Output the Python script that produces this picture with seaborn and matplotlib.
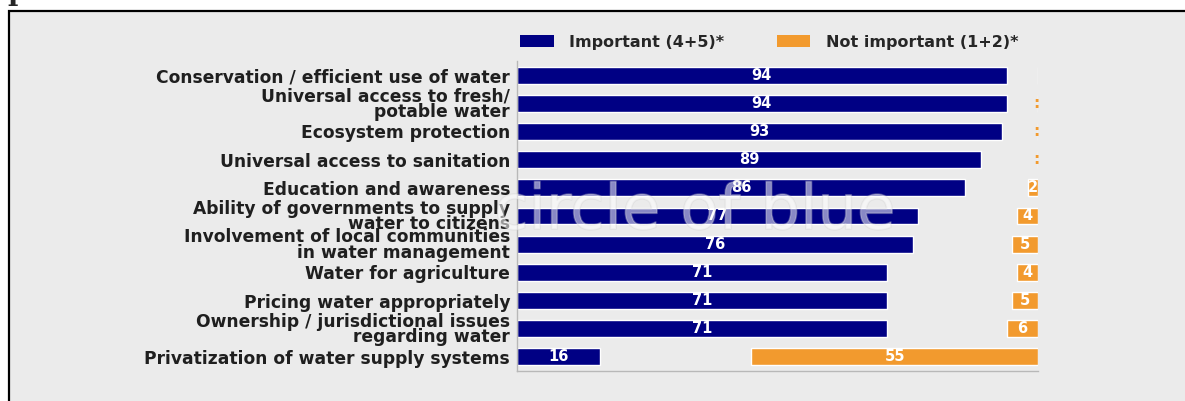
import matplotlib
matplotlib.use("Agg")
import matplotlib.pyplot as plt
import seaborn as sns
import pandas as pd
from matplotlib.patches import Patch, Rectangle
import matplotlib.patheffects as pe

categories = [
    "Conservation / efficient use of water",
    "Universal access to fresh/\npotable water",
    "Ecosystem protection",
    "Universal access to sanitation",
    "Education and awareness",
    "Ability of governments to supply\nwater to citizens",
    "Involvement of local communities\nin water management",
    "Water for agriculture",
    "Pricing water appropriately",
    "Ownership / jurisdictional issues\nregarding water",
    "Privatization of water supply systems",
]
important = [94, 94, 93, 89, 86, 77, 76, 71, 71, 71, 16]
not_important = [0, 0.5, 0.5, 0.5, 2, 4, 5, 4, 5, 6, 55]
legend_labels = ["Important (4+5)*", "Not important (1+2)*"]

NAVY = "#000084"
ORANGE = "#F29A2E"
BG = "#EBEBEB"

sns.set_theme(style="white")
plt.rcParams["font.family"] = ["DejaVu Sans"]

W, H = 1185, 401
fig = plt.figure(figsize=(W / 100, H / 100), dpi=100)
fig.patch.set_facecolor("white")
fig.patches.append(Rectangle((9 / W, -0.05), 1.2, 1 - 11 / H + 0.05,
                             transform=fig.transFigure, facecolor=BG,
                             edgecolor="black", linewidth=1.6, zorder=-10))
fig.text(7 / W, 1 + 0.5 / H, "p", family="DejaVu Serif", fontweight="bold",
         fontsize=20, va="baseline", ha="left")

left, right = 517 / W, 1038 / W
bottom, top = 1 - 371 / H, 1 - 61 / H
ax = fig.add_axes([left, bottom, right - left, top - bottom])
ax.set_facecolor("none")

df = pd.DataFrame({"cat": categories, "imp": important, "notimp": not_important})

sns.barplot(data=df, x="imp", y="cat", color=NAVY, width=0.6, ax=ax,
            saturation=1, orient="h")
ax.set_xlim(0, 100)
ax.set_ylim(len(categories) - 0.5, -0.5)

ax2 = ax.twiny()
ax2.set_facecolor("none")
df_bar = df.copy()
df_bar["notimp_bar"] = [v if v >= 1 else 0 for v in not_important]
sns.barplot(data=df_bar, x="notimp_bar", y="cat", color=ORANGE, width=0.6,
            ax=ax2, saturation=1, orient="h")
ax2.set_xlim(100, 0)
ax2.set_ylim(len(categories) - 0.5, -0.5)
ax2.set_xticks([])
ax2.set_xlabel("")
ax2.set_ylabel("")
for s in ax2.spines.values():
    s.set_visible(False)

# value labels
for i, v in enumerate(important):
    ax.text(v / 2, i, f"{v}", color="white", fontweight="bold", fontsize=10.5,
            ha="center", va="center", zorder=5)
for i, v in enumerate(not_important):
    if v >= 1:
        ax2.text(v / 2, i, f"{v}", color="white", fontweight="bold",
                 fontsize=10.5, ha="center", va="center", zorder=5)
    elif v > 0:
        ax2.text(0.35, i, ":", color=ORANGE, fontweight="bold", fontsize=11,
                 ha="center", va="center", zorder=5)

ax.set_xticks([])
ax.set_xlabel("")
ax.set_ylabel("")
ax.set_yticks(range(len(categories)))
ax.set_yticklabels(categories, fontsize=12.3, fontweight="bold",
                   color="#1f1f1f", linespacing=0.82)
ax.tick_params(axis="y", length=0, pad=5)
for name, s in ax.spines.items():
    s.set_visible(name in ("left", "bottom"))
    s.set_color("#b8b8b8")
    s.set_linewidth(1)

# watermark
fig.text(695 / W, 1 - 212 / H, "circle of blue", fontsize=45, color="white",
         alpha=0.32, ha="center", va="center", zorder=10,
         path_effects=[pe.withStroke(linewidth=1.2, foreground="#cfcfcf")])

handles = [Patch(facecolor=NAVY, edgecolor="none"),
           Patch(facecolor=ORANGE, edgecolor="none")]
fig.legend(handles, legend_labels, loc="center left",
           bbox_to_anchor=(506 / W, 1 - 42 / H), ncol=2, frameon=False,
           handlelength=2.1, handleheight=0.85, handletextpad=0.95,
           columnspacing=3.3, prop={"size": 11.5, "weight": "bold"})

fig.savefig("out.png", dpi=100, facecolor="white")
